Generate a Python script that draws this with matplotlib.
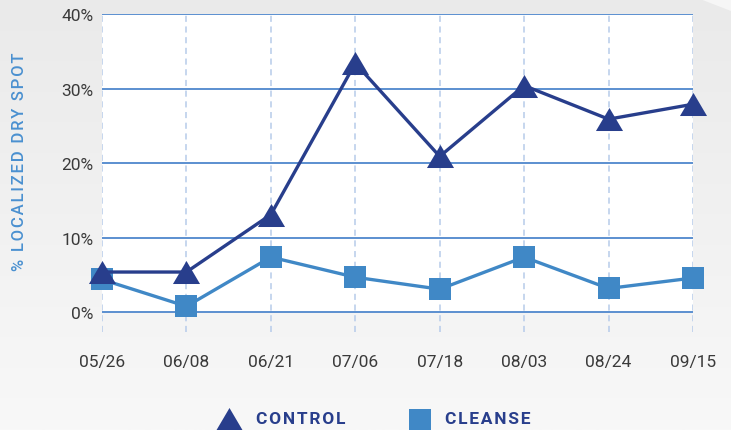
import numpy as np
import matplotlib
matplotlib.use("Agg")
import matplotlib.pyplot as plt
from matplotlib.patches import Polygon

plt.rcParams['font.family'] = ['Roboto', 'DejaVu Sans']

# ---- data ----
dates = ["05/26", "06/08", "06/21", "07/06", "07/18", "08/03", "08/24", "09/15"]
control = [5.4, 5.4, 13.1, 33.4, 20.9, 30.4, 25.9, 27.9]
cleanse = [4.4, 0.8, 7.4, 4.7, 3.1, 7.4, 3.2, 4.6]
yticks = [0, 10, 20, 30, 40]
ytick_labels = ["0%", "10%", "20%", "30%", "40%"]
ylabel = "% LOCALIZED DRY SPOT"
series_names = ["CONTROL", "CLEANSE"]

NAVY = "#283e8c"
BLUE = "#4088c6"
GRID = "#5b8fd0"
VGRID = "#b6cbea"
TXT = "#3a3a3a"
LBL = "#4a90d0"

def spaced(s, sp="\u200a"):
    return sp.join(s)

W, H = 731, 431
fig = plt.figure(figsize=(W / 100, H / 100), dpi=100)

# background gradient
bg = fig.add_axes([0, 0, 1, 1], zorder=-10)
grad = np.linspace(0, 1, 256).reshape(-1, 1)
c_top = np.array([0xea, 0xea, 0xea]) / 255
c_bot = np.array([0xf8, 0xf8, 0xf8]) / 255
img = c_top[None, None, :] * (1 - grad[..., None]) + c_bot[None, None, :] * grad[..., None]
bg.imshow(img, extent=[0, 1, 0, 1], aspect='auto', origin='upper')
bg.add_patch(Polygon([(700 / W, 1), (1, 1), (1, 1 - 12 / H)], closed=True,
                     facecolor="#f6f6f6", edgecolor='none'))
bg.set_xlim(0, 1)
bg.set_ylim(0, 1)
bg.axis('off')

# main axes
y0px, y40px = 313.3, 15.0
ppu = (y0px - y40px) / 40.0
ybot = -(333 - y0px) / ppu
ax = fig.add_axes([102 / W, 1 - 333 / H, (693 - 102) / W, (333 - 15) / H])
ax.patch.set_alpha(0)
ax.set_xlim(0, len(dates) - 1)
ax.set_ylim(ybot, 40)
x = np.arange(len(dates))

ax.axhspan(0, 40, color='white', zorder=0, lw=0)
ax.vlines(x, ybot, 40, colors=VGRID, linestyles=(0, (4, 3)), lw=1.1, zorder=1)
for v in yticks:
    ax.axhline(v, color=GRID, lw=1.4, zorder=1)

tri = [(-1, -0.85), (1, -0.85), (0, 0.85)]
ax.plot(x, cleanse, color=BLUE, lw=2.4, marker='s', markersize=16.5,
        markeredgewidth=0, zorder=3, clip_on=False)
ax.plot(x, control, color=NAVY, lw=2.4, marker=tri, markersize=19.5,
        markeredgewidth=0, zorder=4, clip_on=False)

for s in ax.spines.values():
    s.set_visible(False)
ax.set_xticks(x)
ax.set_xticklabels(dates)
ax.set_yticks(yticks)
ax.set_yticklabels(ytick_labels)
ax.tick_params(axis='both', length=0, labelsize=12.5, labelcolor=TXT)
ax.tick_params(axis='x', pad=15.5)
ax.tick_params(axis='y', pad=6)

fig.text(19.5 / W, 1 - 162 / H, spaced(ylabel), rotation=90, ha='center', va='center',
         color=LBL, fontsize=12, fontweight='medium')

# legend
bg.plot([229 / W], [1 - 419.5 / H], marker=tri, markersize=19.5, color=NAVY,
        markeredgewidth=0, clip_on=False, linestyle='none')
bg.plot([419.5 / W], [1 - 420.5 / H], marker='s', markersize=16.5, color=BLUE,
        markeredgewidth=0, clip_on=False, linestyle='none')
fig.text(256 / W, 1 - 419.5 / H, spaced(series_names[0]), ha='left', va='center',
         color=NAVY, fontsize=12.5, fontweight='bold')
fig.text(445 / W, 1 - 419.5 / H, spaced(series_names[1]), ha='left', va='center',
         color=NAVY, fontsize=12.5, fontweight='bold')

fig.savefig("out.png", dpi=100)
